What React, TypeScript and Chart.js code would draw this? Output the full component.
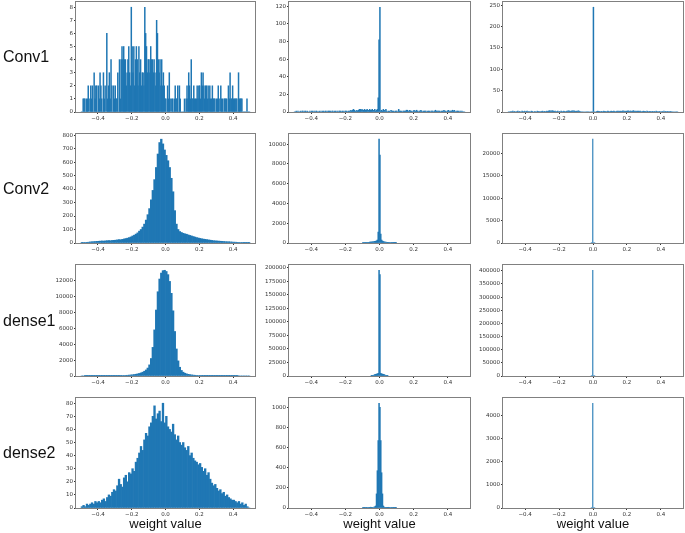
import React, { useEffect, useRef } from "react";
import { Chart, registerables } from "chart.js";

Chart.register(...registerables);

// ---------- DATA ----------
const rowLabels = ["Conv1", "Conv2", "dense1", "dense2"];
const xAxisTitle = "weight value";
const xTickValues = [-0.4, -0.2, 0.0, 0.2, 0.4];
const xMin = -0.53;
const xMax = 0.53;

// Conv1 (200 bins over -0.5..0.5)
const conv1Original = [
  0, 0, 1, 1, 1, 0, 1, 1, 2, 0, 1, 2, 1, 2, 0, 3, 1, 2, 2, 0,
  2, 1, 3, 2, 1, 0, 3, 1, 2, 0, 6, 1, 2, 3, 1, 4, 2, 0, 2, 1,
  2, 1, 1, 3, 0, 4, 1, 4, 5, 4, 5, 4, 4, 2, 3, 4, 5, 3, 2, 8,
  5, 3, 5, 2, 4, 5, 4, 2, 5, 3, 4, 2, 3, 3, 2, 8, 6, 5, 3, 4,
  4, 3, 5, 4, 4, 3, 4, 3, 2, 7, 6, 4, 3, 4, 2, 4, 2, 3, 2, 1,
  1, 0, 2, 1, 3, 1, 0, 1, 1, 0, 1, 2, 1, 1, 2, 0, 2, 1, 0, 0,
  0, 0, 1, 0, 1, 2, 1, 3, 2, 1, 4, 1, 1, 2, 1, 1, 1, 2, 1, 2,
  2, 1, 3, 2, 3, 2, 1, 2, 2, 1, 2, 1, 2, 1, 1, 2, 1, 1, 1, 0,
  1, 1, 2, 1, 0, 2, 1, 1, 0, 1, 1, 1, 1, 0, 2, 1, 3, 1, 1, 2,
  1, 1, 1, 1, 1, 0, 3, 1, 1, 1, 1, 0, 0, 0, 0, 0, 1, 0, 0, 0,
];
const conv1Middle = [
  0, 0, 1, 0, 1, 0, 0, 1, 0, 1, 1, 0, 1, 1, 0, 1, 0, 0, 1, 0,
  1, 1, 0, 1, 0, 1, 1, 0, 0, 1, 0, 1, 0, 1, 1, 0, 1, 1, 0, 1,
  1, 1, 1, 0, 1, 1, 0, 1, 1, 0, 1, 0, 1, 1, 1, 0, 1, 1, 0, 1,
  1, 1, 0, 1, 1, 1, 2, 1, 2, 3, 2, 1, 1, 2, 1, 2, 3, 3, 2, 3,
  2, 2, 3, 2, 2, 3, 2, 2, 3, 2, 2, 3, 2, 2, 3, 1, 2, 3, 16, 82,
  119, 1, 2, 1, 3, 2, 1, 3, 1, 0, 1, 1, 0, 2, 1, 1, 1, 0, 1, 1,
  1, 0, 3, 1, 1, 1, 0, 1, 1, 1, 1, 2, 2, 1, 1, 2, 1, 1, 0, 1,
  2, 1, 1, 2, 1, 0, 1, 1, 2, 1, 0, 1, 1, 1, 1, 0, 1, 1, 1, 0,
  1, 1, 1, 0, 1, 2, 1, 1, 1, 1, 1, 0, 1, 1, 1, 2, 1, 1, 0, 1,
  2, 1, 1, 1, 1, 2, 1, 2, 1, 0, 1, 1, 1, 0, 1, 0, 1, 0, 0, 0,
];
const conv1Right = [
  0, 0, 0, 1, 0, 2, 0, 1, 0, 0, 1, 2, 0, 1, 0, 0, 2, 1, 0, 2,
  0, 1, 2, 0, 1, 0, 0, 2, 1, 0, 0, 1, 0, 0, 2, 1, 0, 1, 0, 1,
  2, 0, 1, 1, 0, 2, 1, 2, 3, 2, 3, 2, 3, 2, 1, 2, 0, 1, 2, 0,
  1, 0, 2, 1, 0, 2, 1, 0, 1, 2, 2, 3, 2, 1, 2, 3, 2, 3, 2, 1,
  2, 1, 3, 2, 1, 0, 0, 0, 0, 0, 0, 0, 0, 0, 0, 0, 0, 0, 0, 0,
  245, 0, 0, 0, 1, 2, 1, 1, 0, 1, 1, 0, 2, 1, 1, 0, 1, 2, 1, 0,
  1, 2, 1, 1, 2, 1, 0, 1, 2, 1, 2, 1, 2, 1, 2, 3, 1, 2, 1, 2,
  2, 3, 1, 2, 2, 1, 2, 3, 2, 1, 2, 1, 2, 2, 1, 2, 1, 0, 1, 2,
  1, 1, 0, 2, 1, 0, 1, 1, 0, 1, 1, 0, 1, 0, 2, 0, 1, 0, 1, 0,
  0, 1, 0, 2, 0, 1, 0, 1, 0, 1, 0, 1, 0, 0, 0, 0, 0, 0, 0, 0,
];

// Conv2
const conv2Original = [
  1, 3, 4, 5, 6, 8, 9, 10, 11, 12, 13, 14, 15, 14, 16, 17, 18, 17, 19, 20,
  21, 23, 25, 24, 27, 30, 33, 36, 40, 45, 52, 58, 66, 75, 88, 100, 118, 140, 170, 210,
  255, 320, 390, 470, 560, 660, 745, 770, 735, 690, 650, 610, 560, 480, 380, 240, 140, 100, 85, 78,
  72, 68, 65, 60, 56, 52, 48, 44, 40, 37, 34, 31, 29, 27, 25, 23, 21, 19, 17, 16,
  15, 14, 13, 12, 11, 10, 9, 9, 8, 7, 6, 6, 5, 4, 4, 3, 2, 2, 1, 1,
];
const conv2Middle = [
  40, 50, 45, 60, 55, 70, 65, 80, 90, 100, 100, 110, 120, 140, 160, 180, 220, 300, 1100, 10500,
  8900, 900, 300, 200, 150, 120, 100, 90, 80, 70, 60, 55, 50, 45, 40, 45, 35, 30, 30, 25,
];
const conv2Right = [0, 0, 0, 0, 23200, 0, 0, 0, 0, 0];

// dense1
const dense1Original = [
  0, 0, 1, 1, 2, 2, 3, 3, 4, 5, 6, 7, 8, 10, 12, 14, 16, 19, 22, 26,
  30, 35, 41, 48, 56, 66, 78, 92, 110, 130, 155, 185, 220, 265, 320, 390, 480, 600, 760, 1000,
  1400, 2200, 3600, 5800, 8300, 10600, 12200, 12950, 13250, 13300,
  13150, 12750, 11900, 10400, 8200, 5600, 3400, 1900, 1100, 700,
  480, 350, 270, 210, 170, 135, 110, 90, 75, 62, 52, 44, 37, 31, 26, 22, 18, 15, 12, 10,
  8, 7, 6, 5, 4, 3, 3, 2, 2, 1, 1, 1, 1, 0, 0, 0, 0, 0, 0, 0,
];
const dense1Middle = [
  500, 800, 1200, 1800, 2500, 3000, 3500, 4000, 5000, 195000,
  187000, 5000, 4000, 3500, 3000, 2500, 1800, 1200, 800, 500,
];
const dense1Right = [0, 0, 0, 0, 402000, 0, 0, 0, 0, 0];

// dense2
const dense2Original = [
  1, 2, 1, 3, 2, 3, 4, 3, 5, 4, 5, 4, 6, 7, 5, 8, 10, 9, 12, 14,
  13, 17, 22, 18, 16, 23, 25, 20, 27, 26, 30, 28, 35, 38, 42, 47, 44, 52, 57, 55,
  62, 65, 70, 78, 68, 72, 74, 66, 80, 65, 70, 62, 60, 58, 64, 56, 52, 55, 50, 48,
  50, 46, 44, 47, 40, 42, 38, 36, 35, 33, 34, 31, 28, 30, 25, 27, 22, 19, 17, 18,
  15, 13, 14, 11, 12, 9, 10, 8, 7, 6, 6, 5, 4, 5, 3, 4, 2, 3, 1, 0,
];
const dense2Middle = [
  3, 4, 2, 5, 4, 6, 5, 7, 6, 8,
  2, 3, 5, 8, 12, 20, 140, 370, 670, 1040, 1000, 670, 350, 140, 20, 10, 6, 4, 3, 2,
  7, 6, 5, 6, 4, 5, 3, 4, 3, 2,
];
const dense2Right = [0, 0, 0, 0, 4550, 0, 0, 0, 0, 0];

// y tick steps per panel
const conv1Steps = [1, 20, 50];
const conv2Steps = [100, 2000, 5000];
const dense1Steps = [2000, 25000, 50000];
const dense2Steps = [10, 200, 1000];

// bin ranges [lo, hi]
const wideRange = [-0.5, 0.5];
const conv2MidRange = [-0.1, 0.1];
const dense1MidRange = [-0.05, 0.05];
const dense2MidRange = [-0.1, 0.1];
const spikeRange = [-0.0125, 0.0125];

type Hist = { lo: number; hi: number; counts: number[]; step: number };
const mk = (r: number[], counts: number[], step: number): Hist => ({ lo: r[0], hi: r[1], counts, step });

const grid: Hist[][] = [
  [mk(wideRange, conv1Original, conv1Steps[0]), mk(wideRange, conv1Middle, conv1Steps[1]), mk(wideRange, conv1Right, conv1Steps[2])],
  [mk(wideRange, conv2Original, conv2Steps[0]), mk(conv2MidRange, conv2Middle, conv2Steps[1]), mk(spikeRange, conv2Right, conv2Steps[2])],
  [mk(wideRange, dense1Original, dense1Steps[0]), mk(dense1MidRange, dense1Middle, dense1Steps[1]), mk(spikeRange, dense1Right, dense1Steps[2])],
  [mk(wideRange, dense2Original, dense2Steps[0]), mk(dense2MidRange, dense2Middle, dense2Steps[1]), mk(spikeRange, dense2Right, dense2Steps[2])],
];

// ---------- LAYOUT ----------
const COLS = [[76, 255], [289, 470], [503, 683]];
const ROWS = [[2, 112], [134, 243], [265, 376], [398, 508]];
const YW = 36;
const XH = 14;
const PAD_T = 5;
const PAD_R = 2;
const BAR = "#1f77b4";
const TICK_FONT = { family: "DejaVu Sans", size: 5.5 };
const TICK_COLOR = "#333";

const fmtX = (v: number) => (Math.abs(v) < 1e-9 ? "0.0" : (v < 0 ? "\u2212" : "") + Math.abs(v).toFixed(1));

const framePlugin = {
  id: "frame",
  afterDraw(chart: any) {
    const { left, top, right, bottom } = chart.chartArea;
    const ctx = chart.ctx;
    ctx.save();
    ctx.strokeStyle = "#808080";
    ctx.lineWidth = 1;
    ctx.strokeRect(Math.round(left) - 0.5, Math.round(top) - 0.5, Math.round(right - left) + 1, Math.round(bottom - top) + 1);
    ctx.restore();
  },
};

function HistPanel({ hist, x0, x1, y0, y1 }: { hist: Hist; x0: number; x1: number; y0: number; y1: number }) {
  const ref = useRef<HTMLCanvasElement>(null);
  const width = x1 - x0 + YW + PAD_R;
  const height = y1 - y0 + PAD_T + XH;
  useEffect(() => {
    const n = hist.counts.length;
    const w = (hist.hi - hist.lo) / n;
    const pts = hist.counts.map((c, i) => ({ x: hist.lo + (i + 0.5) * w, y: c }));
    const ymax = Math.max(...hist.counts) * 1.05;
    const yTicks: number[] = [];
    for (let v = 0; v <= ymax + 1e-9; v += hist.step) yTicks.push(v);
    const chart = new Chart(ref.current as HTMLCanvasElement, {
      type: "bar",
      data: {
        datasets: [
          {
            data: pts as any,
            backgroundColor: BAR,
            borderWidth: 0,
            barPercentage: 1,
            categoryPercentage: 1,
            grouped: false,
          } as any,
        ],
      },
      options: {
        animation: false,
        responsive: false,
        maintainAspectRatio: false,
        devicePixelRatio: 1,
        events: [],
        layout: { padding: { top: PAD_T, right: PAD_R, left: 0, bottom: 0 } },
        plugins: { legend: { display: false }, tooltip: { enabled: false } },
        scales: {
          x: {
            type: "linear",
            min: xMin,
            max: xMax,
            offset: false,
            grid: { offset: false, display: true, drawOnChartArea: false, drawTicks: true, tickLength: 2, color: TICK_COLOR },
            border: { display: false },
            afterBuildTicks: (s: any) => {
              s.ticks = xTickValues.map((v) => ({ value: v }));
            },
            ticks: {
              autoSkip: false,
              maxRotation: 0,
              padding: 1,
              font: TICK_FONT,
              color: TICK_COLOR,
              callback: (v: any) => fmtX(Number(v)),
            },
            afterFit: (s: any) => {
              s.height = XH;
            },
          },
          y: {
            type: "linear",
            min: 0,
            max: ymax,
            grid: { display: true, drawOnChartArea: false, drawTicks: true, tickLength: 2, color: TICK_COLOR },
            border: { display: false },
            afterBuildTicks: (s: any) => {
              s.ticks = yTicks.map((v) => ({ value: v }));
            },
            ticks: {
              autoSkip: false,
              padding: 1,
              font: TICK_FONT,
              color: TICK_COLOR,
              callback: (v: any) => String(Math.round(Number(v))),
            },
            afterFit: (s: any) => {
              s.width = YW;
            },
          },
        },
      } as any,
      plugins: [framePlugin],
    });
    return () => chart.destroy();
  }, [hist]);
  return (
    <canvas
      ref={ref}
      width={width}
      height={height}
      style={{ position: "absolute", left: x0 - YW, top: y0 - PAD_T, width, height }}
    />
  );
}

export default function App() {
  return (
    <div style={{ position: "absolute", left: 0, top: 0, width: 685, height: 533, background: "#fff", overflow: "hidden" }}>
      {grid.map((row, r) =>
        row.map((hist, c) => (
          <HistPanel key={`${r}-${c}`} hist={hist} x0={COLS[c][0]} x1={COLS[c][1]} y0={ROWS[r][0]} y1={ROWS[r][1]} />
        ))
      )}
      {rowLabels.map((lab, r) => (
        <div
          key={lab}
          style={{
            position: "absolute",
            left: 3,
            top: (ROWS[r][0] + ROWS[r][1]) / 2 - 10,
            height: 20,
            lineHeight: "20px",
            fontFamily: "'Liberation Sans', Arial, sans-serif",
            fontSize: 16,
            color: "#111",
            whiteSpace: "nowrap",
          }}
        >
          {lab}
        </div>
      ))}
      {COLS.map((col, c) => (
        <div
          key={`xl-${c}`}
          style={{
            position: "absolute",
            left: (col[0] + col[1]) / 2 - 60,
            width: 120,
            top: 515,
            height: 18,
            lineHeight: "18px",
            textAlign: "center",
            fontFamily: "'Liberation Sans', Arial, sans-serif",
            fontSize: 13,
            color: "#111",
            whiteSpace: "nowrap",
          }}
        >
          {xAxisTitle}
        </div>
      ))}
    </div>
  );
}
